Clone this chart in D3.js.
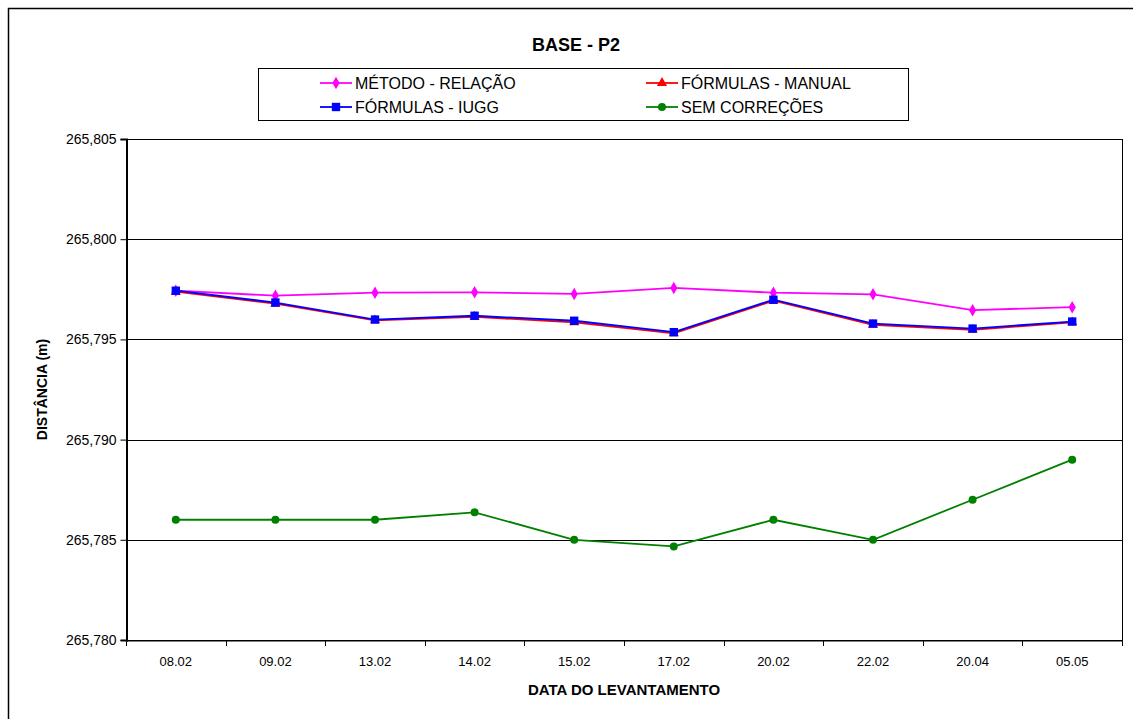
<!DOCTYPE html>
<html>
<head>
<meta charset="utf-8">
<script src="https://cdn.jsdelivr.net/npm/d3@7"></script>
<style>
  html, body { margin: 0; padding: 0; background: #fff; }
  svg { display: block; font-family: "Liberation Sans", Arial, sans-serif; }
</style>
</head>
<body>
<svg id="chart" width="1133" height="719"></svg>
<script>
// Survey dates
const categories = ["08.02", "09.02", "13.02", "14.02", "15.02", "17.02", "20.02", "22.02", "20.04", "05.05"];

// Measured distances (m) for each reduction method
const metodoRelacao   = [265.79743, 265.79718, 265.79733, 265.79735, 265.79727, 265.79757, 265.79733, 265.79725, 265.79646, 265.79661];
const formulasManual  = [265.79738, 265.79678, 265.79595, 265.79613, 265.79585, 265.79530, 265.79693, 265.79573, 265.79548, 265.79585];
const formulasIugg    = [265.79743, 265.79684, 265.79599, 265.79618, 265.79593, 265.79536, 265.79698, 265.79579, 265.79554, 265.79589];
const semCorrecoes    = [265.78600, 265.78600, 265.78600, 265.78637, 265.78500, 265.78467, 265.78600, 265.78500, 265.78700, 265.78900];

const yTicks = [265.780, 265.785, 265.790, 265.795, 265.800, 265.805];

const series = [
  { name: "MÉTODO - RELAÇÃO",  values: metodoRelacao,  color: "#ff00ff", symbol: d3.symbolDiamond,  size: 45 },
  { name: "FÓRMULAS - MANUAL", values: formulasManual, color: "#ff0000", symbol: d3.symbolTriangle, size: 45 },
  { name: "FÓRMULAS - IUGG",   values: formulasIugg,   color: "#0000ff", symbol: d3.symbolSquare,   size: 70 },
  { name: "SEM CORREÇÕES",     values: semCorrecoes,   color: "#008000", symbol: d3.symbolCircle,   size: 50 }
];

const svg = d3.select("#chart");
const plot = { left: 126, right: 1122, top: 139, bottom: 640 };
const font = "'Liberation Sans', Arial, sans-serif";

// Outer chart frame
svg.append("rect")
  .attr("x", 8.5).attr("y", 8.5)
  .attr("width", 1140).attr("height", 720)
  .attr("fill", "#fff").attr("stroke", "#000").attr("stroke-width", 1.5);

const x = d3.scaleBand().domain(categories).range([plot.left, plot.right]);
const y = d3.scaleLinear().domain([265.780, 265.805]).range([plot.bottom, plot.top]);

// Horizontal gridlines
svg.append("g")
  .selectAll("line")
  .data(yTicks)
  .join("line")
  .attr("x1", plot.left).attr("x2", plot.right)
  .attr("y1", d => Math.round(y(d)) + 0.5).attr("y2", d => Math.round(y(d)) + 0.5)
  .attr("stroke", "#000").attr("stroke-width", 1);

// Plot area frame
svg.append("rect")
  .attr("x", plot.left + 0.5).attr("y", Math.round(y(265.805)) + 0.5)
  .attr("width", plot.right - plot.left).attr("height", Math.round(y(265.780)) - Math.round(y(265.805)))
  .attr("fill", "none").attr("stroke", "#000").attr("stroke-width", 1);

// Y axis
const fmt = v => d3.format(".3f")(v).replace(".", ",");
const yAxis = svg.append("g")
  .attr("transform", `translate(${plot.left + 0.5},0)`)
  .call(d3.axisLeft(y).tickValues(yTicks).tickFormat(fmt).tickSize(6).tickPadding(4));
yAxis.select(".domain").attr("stroke", "#000").attr("stroke-width", 2);
yAxis.selectAll(".tick line").attr("stroke", "#000");
yAxis.selectAll(".tick text")
  .attr("font-size", 14).attr("fill", "#000").attr("font-family", font);

// X axis with ticks between categories
const xAxis = svg.append("g")
  .attr("transform", `translate(0,${Math.round(y(265.780)) + 0.5})`)
  .call(d3.axisBottom(x).tickSize(0).tickPadding(16));
xAxis.select(".domain").attr("stroke", "#000");
xAxis.selectAll(".tick text")
  .attr("font-size", 13).attr("fill", "#000").attr("font-family", font);
svg.append("g")
  .selectAll("line")
  .data(d3.range(categories.length + 1))
  .join("line")
  .attr("x1", i => Math.round(plot.left + i * x.step()) + 0.5)
  .attr("x2", i => Math.round(plot.left + i * x.step()) + 0.5)
  .attr("y1", Math.round(y(265.780)))
  .attr("y2", Math.round(y(265.780)) + 6)
  .attr("stroke", "#000");

// Series lines and markers
const line = d3.line()
  .x((d, i) => x(categories[i]) + x.bandwidth() / 2)
  .y(d => y(d));

series.forEach(s => {
  svg.append("path")
    .datum(s.values)
    .attr("d", line)
    .attr("fill", "none")
    .attr("stroke", s.color)
    .attr("stroke-width", 1.8);
  svg.append("g")
    .selectAll("path")
    .data(s.values)
    .join("path")
    .attr("d", d3.symbol().type(s.symbol).size(s.size))
    .attr("transform", (d, i) => `translate(${x(categories[i]) + x.bandwidth() / 2},${y(d)})`)
    .attr("fill", s.color);
});

// Title
svg.append("text")
  .attr("x", 576).attr("y", 51)
  .attr("text-anchor", "middle")
  .attr("font-size", 18).attr("font-weight", "bold")
  .text("BASE - P2");

// Legend
const legend = svg.append("g");
legend.append("rect")
  .attr("x", 258.5).attr("y", 68.5).attr("width", 650).attr("height", 52)
  .attr("fill", "#fff").attr("stroke", "#000").attr("stroke-width", 1);
const legendPos = [
  { x: 320, y: 83 }, { x: 646, y: 83 },
  { x: 320, y: 107 }, { x: 646, y: 107 }
];
series.forEach((s, i) => {
  const p = legendPos[i];
  const g = legend.append("g").attr("transform", `translate(${p.x},${p.y})`);
  g.append("line").attr("x1", 0).attr("x2", 32).attr("y1", 0).attr("y2", 0)
    .attr("stroke", s.color).attr("stroke-width", 1.8);
  g.append("path").attr("d", d3.symbol().type(s.symbol).size(s.size))
    .attr("transform", "translate(16,0)").attr("fill", s.color);
  g.append("text").attr("x", 35).attr("y", 0).attr("dy", "0.35em")
    .attr("font-size", 16).text(s.name);
});

// Axis titles
svg.append("text")
  .attr("transform", `translate(47,${(plot.top + plot.bottom) / 2}) rotate(-90)`)
  .attr("text-anchor", "middle")
  .attr("font-size", 14).attr("font-weight", "bold")
  .text("DISTÂNCIA (m)");
svg.append("text")
  .attr("x", (plot.left + plot.right) / 2).attr("y", 695)
  .attr("text-anchor", "middle")
  .attr("font-size", 15).attr("font-weight", "bold")
  .text("DATA DO LEVANTAMENTO");
</script>
</body>
</html>
